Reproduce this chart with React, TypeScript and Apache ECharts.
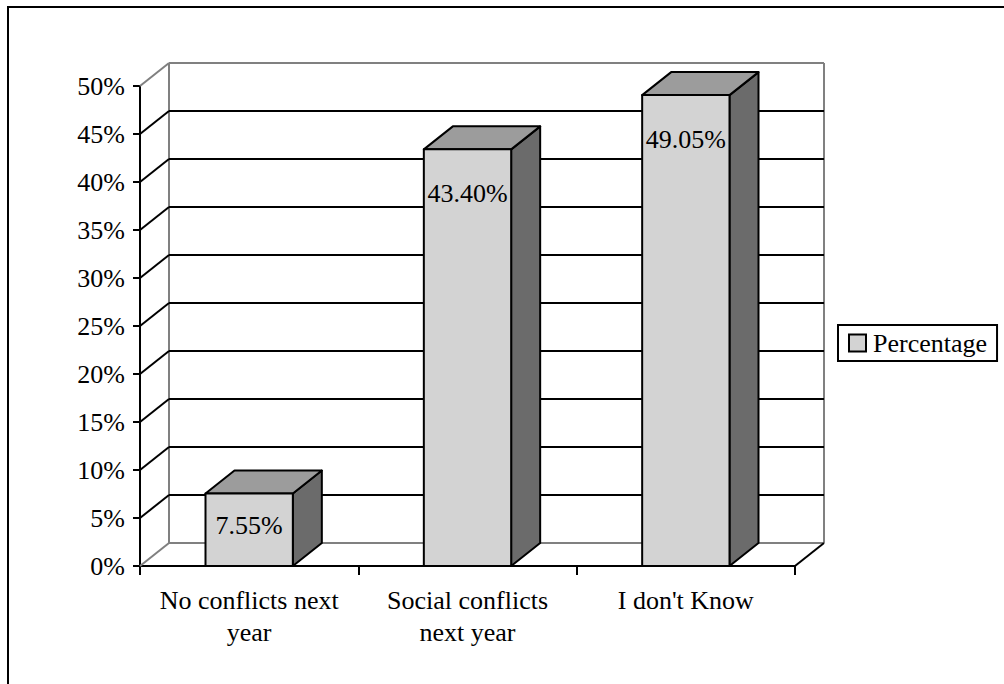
import React, { useEffect, useRef } from "react";
import * as echarts from "echarts";

// Survey answers and their share of respondents (percent)
const categories = ["No conflicts next\nyear", "Social conflicts\nnext year", "I don't Know"];
const percentages = [7.55, 43.4, 49.05];
// Value-axis levels that carry a gridline on the walls
const gridLevels = [0, 5, 10, 15, 20, 25, 30, 35, 40, 45, 50];
const seriesName = "Percentage";

// Oblique projection of the depth axis (pixels)
const DX = 29;
const DY = -23;
const FONT = "Liberation Serif";
const FRONT = "#d3d3d3";
const TOP = "#9c9c9c";
const SIDE = "#6b6b6b";
const WALL_EDGE = "#808080";

export default function App() {
  const ref = useRef<HTMLDivElement>(null);

  useEffect(() => {
    if (!ref.current) return;
    const chart = echarts.init(ref.current, null, { renderer: "svg" });
    const yMax = gridLevels[gridLevels.length - 1];

    const wallRender = (params: any, api: any) => {
      const cs = params.coordSys;
      const v = api.value(1);
      const y = api.coord([0, v])[1];
      const edge = v === 0 || v === yMax;
      const color = edge ? WALL_EDGE : "#000";
      const children: any[] = [
        {
          type: "line",
          shape: { x1: cs.x, y1: y, x2: cs.x + DX, y2: y + DY },
          style: { stroke: color, lineWidth: 2 },
        },
        {
          type: "line",
          shape: { x1: cs.x + DX, y1: y + DY, x2: cs.x + cs.width + DX, y2: y + DY },
          style: { stroke: color, lineWidth: 2 },
        },
      ];
      if (v === 0) {
        const yTop = api.coord([0, yMax])[1];
        children.push(
          {
            type: "line",
            shape: { x1: cs.x + DX, y1: y + DY, x2: cs.x + DX, y2: yTop + DY },
            style: { stroke: WALL_EDGE, lineWidth: 2 },
          },
          {
            type: "line",
            shape: { x1: cs.x + cs.width + DX, y1: y + DY, x2: cs.x + cs.width + DX, y2: yTop + DY },
            style: { stroke: WALL_EDGE, lineWidth: 2 },
          },
          {
            type: "line",
            shape: { x1: cs.x + cs.width, y1: y, x2: cs.x + cs.width + DX, y2: y + DY },
            style: { stroke: "#000", lineWidth: 2 },
          }
        );
      }
      return { type: "group", children };
    };

    const barRender = (params: any, api: any) => {
      const idx = api.value(0);
      const val = api.value(1);
      const [cx, yt] = api.coord([idx, val]);
      const yb = api.coord([idx, 0])[1];
      const bw = api.size([1, 0])[0] / 2.5;
      const x0 = cx - bw / 2;
      const x1 = cx + bw / 2;
      const h = yb - yt;
      const stroke = { stroke: "#000", lineWidth: 2, lineJoin: "round" };
      return {
        type: "group",
        children: [
          {
            type: "polygon",
            shape: { points: [[x1, yt], [x1 + DX, yt + DY], [x1 + DX, yb + DY], [x1, yb]] },
            style: { fill: SIDE, ...stroke },
          },
          {
            type: "polygon",
            shape: { points: [[x0, yt], [x1, yt], [x1 + DX, yt + DY], [x0 + DX, yt + DY]] },
            style: { fill: TOP, ...stroke },
          },
          {
            type: "rect",
            shape: { x: x0, y: yt, width: bw, height: h },
            style: { fill: FRONT, ...stroke },
          },
          {
            type: "text",
            x: cx,
            y: yt + Math.min(44, h * 0.44),
            style: {
              text: val.toFixed(2) + "%",
              fill: "#000",
              fontSize: 26,
              fontFamily: FONT,
              align: "center",
              verticalAlign: "middle",
            },
          },
        ],
      };
    };

    chart.setOption({
      animation: false,
      backgroundColor: "#fff",
      textStyle: { fontFamily: FONT },
      grid: { left: 140, top: 86, width: 655, height: 480, containLabel: false },
      graphic: [
        {
          type: "rect",
          shape: { x: 8, y: 7, width: 1200, height: 900 },
          style: { fill: "none", stroke: "#000", lineWidth: 2 },
          z: 100,
          silent: true,
        },
      ],
      legend: {
        left: 838,
        top: 325,
        orient: "vertical",
        padding: [5, 10, 5, 10],
        borderColor: "#000",
        borderWidth: 2,
        backgroundColor: "#fff",
        itemWidth: 17,
        itemHeight: 17,
        icon: "rect",
        selectedMode: false,
        data: [
          {
            name: seriesName,
            itemStyle: { color: FRONT, borderColor: "#000", borderWidth: 2 },
          },
        ],
        textStyle: { fontSize: 26, fontFamily: FONT, color: "#000", padding: [0, 0, 0, 2] },
      },
      xAxis: {
        type: "category",
        data: categories,
        boundaryGap: true,
        axisLine: { show: true, lineStyle: { color: "#000", width: 2 } },
        axisTick: { show: true, length: 9, lineStyle: { color: "#000", width: 2 } },
        axisLabel: {
          fontSize: 26,
          fontFamily: FONT,
          color: "#000",
          lineHeight: 32,
          margin: 18,
          interval: 0,
        },
        splitLine: { show: false },
      },
      yAxis: {
        type: "value",
        min: 0,
        max: yMax,
        interval: 5,
        axisLine: { show: true, lineStyle: { color: "#000", width: 2 } },
        axisTick: { show: true, length: 7, lineStyle: { color: "#000", width: 2 } },
        axisLabel: {
          formatter: "{value}%",
          fontSize: 26,
          fontFamily: FONT,
          color: "#000",
          margin: 15,
        },
        splitLine: { show: false },
      },
      series: [
        {
          type: "custom",
          name: "walls",
          silent: true,
          z: 1,
          renderItem: wallRender,
          encode: { x: 0, y: 1 },
          data: gridLevels.map((v) => [0, v]),
        },
        {
          type: "custom",
          name: seriesName,
          z: 3,
          itemStyle: { color: FRONT },
          renderItem: barRender,
          encode: { x: 0, y: 1 },
          data: percentages.map((v, i) => [i, v]),
        },
      ],
    });

    return () => chart.dispose();
  }, []);

  return (
    <div
      ref={ref}
      style={{ position: "fixed", left: 0, top: 0, width: 1004, height: 684, background: "#fff" }}
    />
  );
}
